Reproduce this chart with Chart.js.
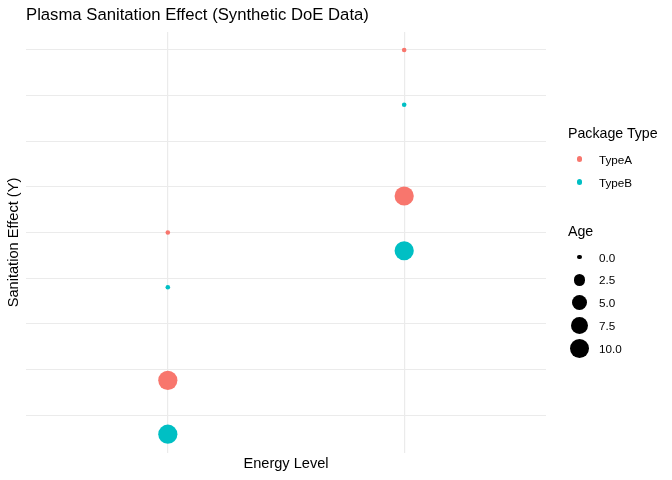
<!DOCTYPE html>
<html>
<head>
<meta charset="utf-8">
<script src="https://cdn.jsdelivr.net/npm/chart.js@4"></script>
<style>
  html, body { margin: 0; padding: 0; background: #fff; }
  #wrap { position: relative; width: 672px; height: 480px; font-family: "Liberation Sans", Arial, sans-serif; color: #000; }
  #chart { position: absolute; left: 0; top: 0; }
  .txt { position: absolute; white-space: nowrap; }
  .row { position: absolute; display: flex; align-items: center; height: 20px; }
  .key { position: absolute; border-radius: 50%; }
</style>
</head>
<body>
<div id="wrap">
  <canvas id="chart" width="672" height="480"></canvas>
  <div class="txt" id="title" style="left:26px; top:6px; font-size:16.7px; line-height:18px;">Plasma Sanitation Effect (Synthetic DoE Data)</div>
  <div id="legend"></div>
</div>
<script>
// categories and values (no axis labels in the original)
const energyLevels = ["Low", "High"];
const packageTypes = ["TypeA", "TypeB"];
const ages = [0, 10];
const typeA_age0 = [40.0, 60.0];
const typeA_age10 = [23.8, 44.0];
const typeB_age0 = [34.0, 54.0];
const typeB_age10 = [17.9, 38.0];
const ageBreaks = [0, 2.5, 5, 7.5, 10];
const gridValues = [20, 25, 30, 35, 40, 45, 50, 55, 60];

const colors = { TypeA: "#F8766D", TypeB: "#00BFC4" };
const FONT = "'Liberation Sans', Arial, sans-serif";

// point radius from age (area-like scale)
function radiusFor(age) {
  return 2.3 + 7.3 * Math.sqrt(age / 10);
}

function points(age0, age10) {
  const out = [];
  energyLevels.forEach((lvl, i) => {
    out.push({ x: i + 1, y: age0[i], age: ages[0] });
    out.push({ x: i + 1, y: age10[i], age: ages[1] });
  });
  return out;
}

const series = {
  TypeA: points(typeA_age0, typeA_age10),
  TypeB: points(typeB_age0, typeB_age10),
};

const ctx = document.getElementById("chart").getContext("2d");

new Chart(ctx, {
  type: "scatter",
  data: {
    datasets: packageTypes.map(t => ({
      label: t,
      data: series[t],
      backgroundColor: colors[t],
      borderWidth: 0,
      pointRadius: c => radiusFor(c.raw.age),
      pointHoverRadius: c => radiusFor(c.raw.age),
    })),
  },
  options: {
    responsive: false,
    animation: false,
    layout: { padding: { top: 32, right: 126, bottom: 3, left: 0 } },
    plugins: {
      legend: { display: false },
      tooltip: { enabled: false },
    },
    scales: {
      x: {
        type: "linear",
        min: 0.4,
        max: 2.6,
        afterBuildTicks: s => { s.ticks = energyLevels.map((_, i) => ({ value: i + 1 })); },
        afterFit: s => { s.height = 24; },
        ticks: { display: false },
        grid: { color: "#EBEBEB", lineWidth: 1.2, drawTicks: false },
        border: { display: false },
        title: {
          display: true,
          text: "Energy Level",
          color: "#000",
          font: { family: FONT, size: 14.6 },
          padding: { top: 4, bottom: 4 },
        },
      },
      y: {
        type: "linear",
        min: 15.84,
        max: 61.97,
        afterBuildTicks: s => { s.ticks = gridValues.map(v => ({ value: v })); },
        afterFit: s => { s.width = 26; },
        ticks: { display: false },
        grid: { color: "#EBEBEB", lineWidth: 1, drawTicks: false },
        border: { display: false },
        title: {
          display: true,
          text: "Sanitation Effect (Y)",
          color: "#000",
          font: { family: FONT, size: 14.6 },
          padding: { top: 5, bottom: 4 },
        },
      },
    },
  },
});

// legend (HTML)
const legend = document.getElementById("legend");
function addText(text, x, cy, size) {
  const d = document.createElement("div");
  d.className = "row";
  d.style.left = x + "px";
  d.style.top = (cy - 10) + "px";
  d.style.fontSize = size + "px";
  d.textContent = text;
  legend.appendChild(d);
}
function addDot(cx, cy, r, color) {
  const d = document.createElement("div");
  d.className = "key";
  d.style.left = (cx - r) + "px";
  d.style.top = (cy - r) + "px";
  d.style.width = (2 * r) + "px";
  d.style.height = (2 * r) + "px";
  d.style.background = color;
  legend.appendChild(d);
}

addText("Package Type", 568, 133, 14.2);
packageTypes.forEach((t, i) => {
  const cy = 159 + i * 23;
  addDot(579.5, cy, 2.8, colors[t]);
  addText(t, 599, cy, 11.7);
});

addText("Age", 568, 230.5, 14.2);
ageBreaks.forEach((a, i) => {
  const cy = 257 + i * 22.8;
  addDot(579.5, cy, radiusFor(a), "#000");
  addText(a.toFixed(1), 599, cy, 11.7);
});
</script>
</body>
</html>
